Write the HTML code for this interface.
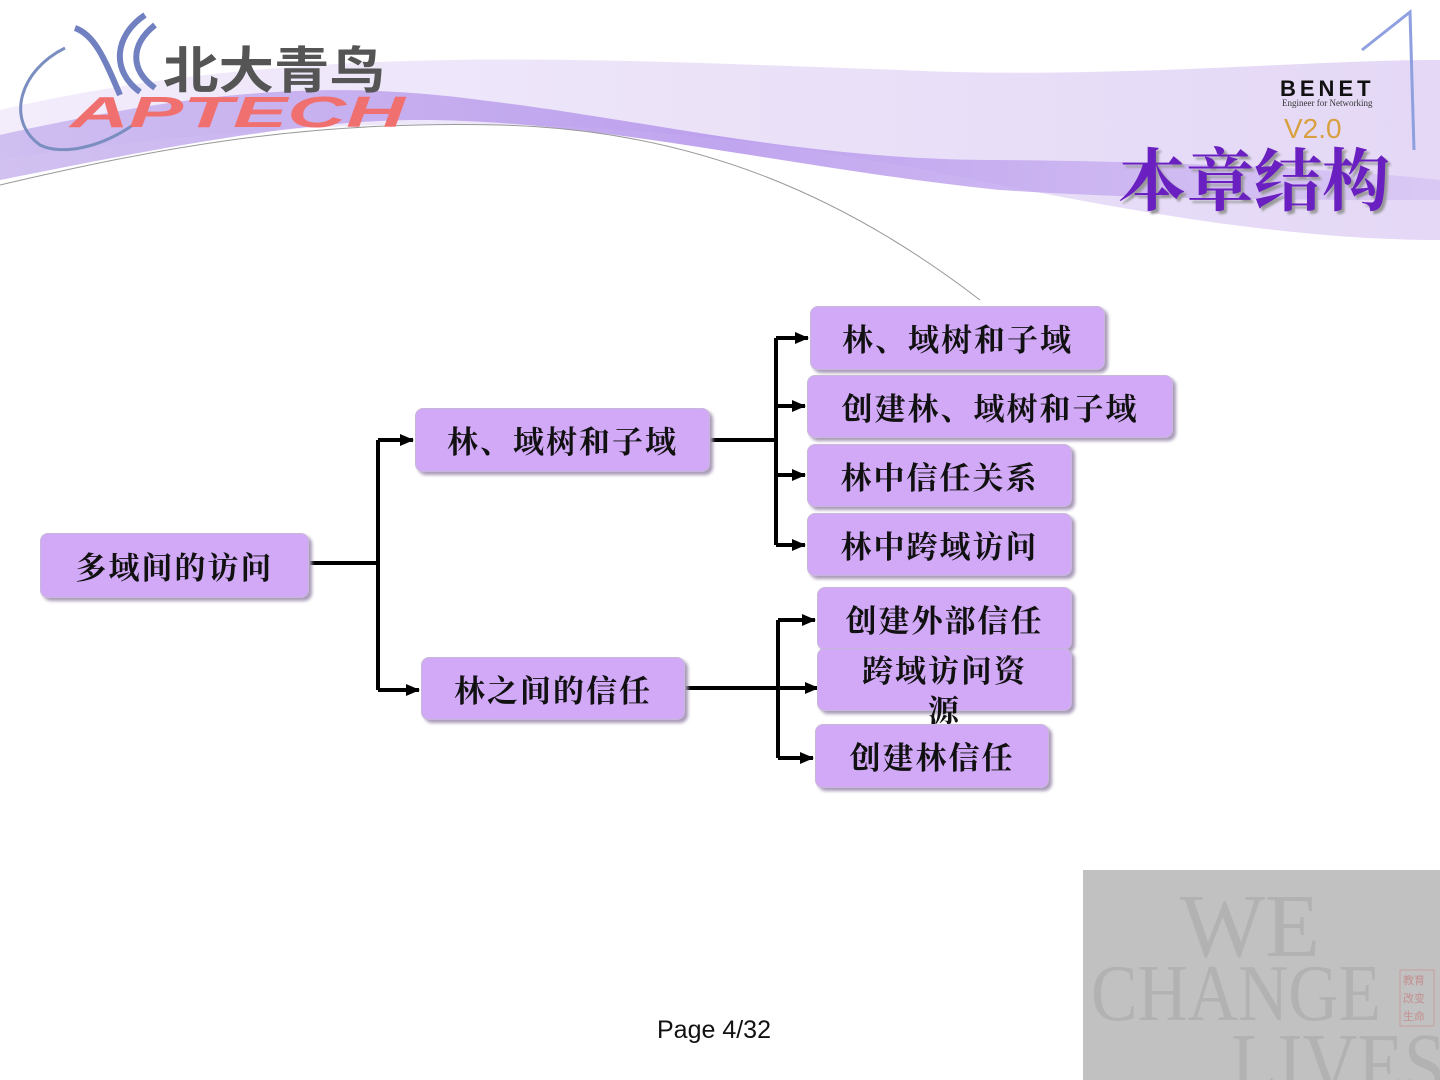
<!DOCTYPE html>
<html><head><meta charset="utf-8"><style>
body{margin:0;width:1440px;height:1080px;position:relative;background:#fff;overflow:hidden;font-family:"Liberation Sans","Noto Sans CJK SC",sans-serif}
.n{position:absolute;background:#d2a9f7;border:1px solid #c6b8d6;border-radius:8px;box-shadow:3px 3px 3px #a89ab8;display:flex;align-items:center;justify-content:center;font-family:"Noto Serif CJK SC","Noto Sans CJK SC",serif;font-weight:bold;font-size:31px;color:#111;letter-spacing:2px;line-height:38px;text-align:center;box-sizing:border-box}
.a{position:absolute}
</style></head><body>
<svg class="a" style="left:0;top:0" width="1440" height="320">
<defs><linearGradient id="g" x1="0" x2="1"><stop offset="0" stop-color="#c9b6ee"/><stop offset="0.5" stop-color="#b595ec"/><stop offset="1" stop-color="#d8c6f4"/></linearGradient>
<linearGradient id="g2" x1="0" x2="1"><stop offset="0" stop-color="#f2ecfb"/><stop offset="1" stop-color="#e4d8f6"/></linearGradient></defs>
<path d="M0 110 C300 40 600 60 900 70 C1100 80 1300 60 1440 60 L1440 240 C1300 240 1150 215 1000 185 C700 120 400 100 0 160Z" fill="url(#g2)"/>
<path d="M0 135 C200 90 330 80 480 100 C650 120 800 160 1000 160 C1200 162 1350 170 1440 180 L1440 200 C1300 200 1150 200 1000 190 C800 170 600 120 420 120 C300 120 150 150 0 180Z" fill="url(#g)" opacity="0.85"/>
<path d="M0 185 C150 150 300 120 500 125 C700 130 850 200 980 300" fill="none" stroke="#999" stroke-width="1"/>
<path d="M65 48 C20 70 5 120 40 145 C60 155 100 150 140 120" fill="none" stroke="#7a8ec0" stroke-width="3"/>
<path d="M75 28 C95 35 105 60 120 95 M145 15 C115 35 110 70 140 92 M155 25 C130 45 130 70 155 88" fill="none" stroke="#7080c0" stroke-width="6"/>
<text x="163" y="88" textLength="222" lengthAdjust="spacingAndGlyphs" font-family="Noto Sans CJK SC,sans-serif" font-weight="bold" font-size="50" fill="#555">北大青鸟</text>
<text x="70" y="127" textLength="335" lengthAdjust="spacingAndGlyphs" font-family="Liberation Sans,sans-serif" font-style="italic" font-weight="bold" font-size="44" fill="#f07070">APTECH</text>
<path d="M1362 50 L1410 12 L1414 150" fill="none" stroke="#8fa0e0" stroke-width="3"/>
<text x="1280" y="96" font-family="Liberation Sans,sans-serif" font-weight="bold" font-size="22" fill="#111" letter-spacing="4">BENET</text>
<text x="1282" y="106" font-family="Liberation Serif,serif" font-size="9" fill="#333">Engineer for Networking</text>
<text x="1284" y="138" font-family="Liberation Sans,sans-serif" font-size="28" fill="#d9a040">V2.0</text>
<text x="1118" y="205" font-family="Noto Serif CJK SC,serif" font-weight="bold" font-size="68" fill="#6a20c0" style="text-shadow:3px 3px 2px #999">本章结构</text>
</svg>
<svg class="a" style="left:0;top:0" width="1440" height="1080">
<defs><marker id="m" markerWidth="14" markerHeight="14" refX="13" refY="7" orient="auto" markerUnits="userSpaceOnUse"><path d="M0 1 L14 7 L0 13Z" fill="#000"/></marker></defs>
<g stroke="#000" stroke-width="4" fill="none">
<path d="M310 563 H378 M378 440 V690"/>
<path d="M378 440 H413" marker-end="url(#m)"/><path d="M378 690 H419" marker-end="url(#m)"/>
<path d="M710 440 H776 M776 338 V545"/>
<path d="M776 338 H808" marker-end="url(#m)"/><path d="M776 406 H805" marker-end="url(#m)"/><path d="M776 475 H805" marker-end="url(#m)"/><path d="M776 545 H805" marker-end="url(#m)"/>
<path d="M685 688 H818" marker-end="url(#m)"/>
<path d="M778 620 V758"/>
<path d="M778 620 H815" marker-end="url(#m)"/><path d="M778 758 H813" marker-end="url(#m)"/>
</g></svg>
<div class="n" style="left:40px;top:533px;width:269px;height:65px">多域间的访问</div>
<div class="n" style="left:415px;top:408px;width:295px;height:64px">林、域树和子域</div>
<div class="n" style="left:421px;top:657px;width:264px;height:63px">林之间的信任</div>
<div class="n" style="left:810px;top:306px;width:295px;height:64px">林、域树和子域</div>
<div class="n" style="left:807px;top:375px;width:366px;height:63px">创建林、域树和子域</div>
<div class="n" style="left:807px;top:444px;width:265px;height:63px">林中信任关系</div>
<div class="n" style="left:807px;top:513px;width:265px;height:63px">林中跨域访问</div>
<div class="n" style="left:817px;top:587px;width:255px;height:63px">创建外部信任</div>
<div class="n" style="left:817px;top:654px;width:255px;height:63px;align-items:flex-start;padding:0 30px;overflow:visible;line-height:40px;top:648px">跨域访问资源</div>
<div class="n" style="left:815px;top:724px;width:234px;height:64px">创建林信任</div>
<div class="a" style="left:1083px;top:870px;width:357px;height:210px;background:#c1c1c1;overflow:hidden">
<svg width="357" height="210" style="position:absolute;left:0;top:0">
<g font-family="Liberation Serif,serif" fill="#b2b2b2">
<text x="97" y="86" textLength="140" lengthAdjust="spacingAndGlyphs" font-size="90">WE</text>
<text x="8" y="150" textLength="290" lengthAdjust="spacingAndGlyphs" font-size="80">CHANGE</text>
<text x="148" y="225" textLength="215" lengthAdjust="spacingAndGlyphs" font-size="90">LIVES</text>
</g>
<rect x="317" y="100" width="34" height="56" fill="none" stroke="#c9a0a0"/>
<g font-family="Noto Sans CJK SC,sans-serif" font-size="11" fill="#c49090">
<text x="320" y="114">教育</text><text x="320" y="132">改变</text><text x="320" y="150">生命</text></g>
</svg>
</div>
<div class="a" style="left:657px;top:1016px;font-size:25px;color:#111">Page 4/32</div>
</body></html>
